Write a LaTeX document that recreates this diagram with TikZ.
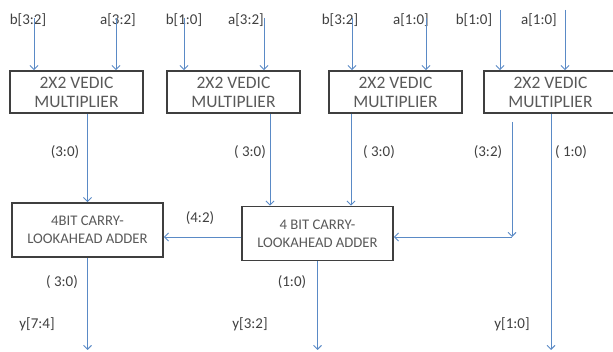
\documentclass[tikz,border=0pt]{standalone}
\usepackage{fontspec}
\setmainfont{Carlito}
\usetikzlibrary{arrows.meta}
\definecolor{wire}{HTML}{5A8AC6}
\definecolor{boxline}{HTML}{3F3F3F}
\definecolor{boxtext}{HTML}{595959}
\definecolor{labeltext}{HTML}{404040}

\begin{document}
\begin{tikzpicture}[x=1pt, y=-1pt,
    mult/.style={rectangle, draw=boxline, line width=1.8pt, minimum width=133pt, minimum height=42pt, align=center, text=boxtext, inner sep=0pt, font=\fontsize{17.5}{19}\selectfont},
    cla/.style={rectangle, draw=boxline, line width=1.8pt, minimum width=151pt, minimum height=54pt, align=center, text=boxtext, inner sep=0pt, font=\fontsize{14.7}{18}\selectfont},
    lbl/.style={text=labeltext, inner sep=0pt, font=\fontsize{15}{18}\selectfont},
    arrow/.style={-{Straight Barb[length=4pt,width=8pt]}, draw=wire, line width=0.9pt}
]
\useasboundingbox (0,0) rectangle (613,352);

\node[mult] (vm1) at (76.5,92) {2X2 VEDIC\\MULTIPLIER};
\node[mult] (vm2) at (233.5,92) {2X2 VEDIC\\MULTIPLIER};
\node[mult] (vm3) at (395.5,92) {2X2 VEDIC\\MULTIPLIER};
\node[mult] (vm4) at (550.5,92) {2X2 VEDIC\\MULTIPLIER};

\node[cla] (cla1) at (87.5,230) {4BIT CARRY-\\LOOKAHEAD ADDER};
\node[cla] (cla2) at (317.5,233.5) {4 BIT CARRY-\\LOOKAHEAD ADDER};

\node[lbl] (lb1) at (28,20) {b[3:2]};
\node[lbl] (la1) at (118,20) {a[3:2]};
\node[lbl] (lb2) at (184,20) {b[1:0]};
\node[lbl] (la2) at (246,20) {a[3:2]};
\node[lbl] (lb3) at (340,20) {b[3:2]};
\node[lbl] (la3) at (411,20) {a[1:0]};
\node[lbl] (lb4) at (474,20) {b[1:0]};
\node[lbl] (la4) at (539,20) {a[1:0]};

\coordinate (inb1) at (34,18);
\coordinate (ina1) at (116,18);
\coordinate (inb2) at (184,18);
\coordinate (ina2) at (264,18);
\coordinate (inb3) at (352,18);
\coordinate (ina3) at (426,18);
\coordinate (inb4) at (500,10);
\coordinate (ina4) at (565,10);
\foreach \i in {1,...,4} {
    \draw[arrow] (inb\i) -- (inb\i |- vm\i.north);
    \draw[arrow] (ina\i) -- (ina\i |- vm\i.north);
}

\coordinate (bot) at (0,350);
\coordinate (t32) at (512,122);
\coordinate (c32) at (512,237);

\draw[arrow] (cla1.north |- vm1.south) -- (cla1.north);
\draw[arrow] ([xshift=36.5pt]vm2.south) -- ([xshift=36.5pt]vm2.south |- cla2.north);
\draw[arrow] ([xshift=-44.5pt]vm3.south) -- ([xshift=-44.5pt]vm3.south |- cla2.north);
\draw[arrow] (t32) -- (c32);
\draw[arrow] (c32) -- (cla2.east |- c32);
\draw[arrow] ([xshift=0.5pt]vm4.south) -- ([xshift=0.5pt]vm4.south |- bot);
\draw[arrow] (cla2.west |- c32) -- (cla1.east |- c32);
\draw[arrow] (cla1.south) -- (cla1.south |- bot);
\draw[arrow] (cla2.south) -- (cla2.south |- bot);

\node[lbl] (p1) at (65,152) {(3:0)};
\node[lbl] (p2) at (250,152) {( 3:0)};
\node[lbl] (p3) at (379,152) {( 3:0)};
\node[lbl] (p4) at (488,152) {(3:2)};
\node[lbl] (p5) at (571,152) {( 1:0)};
\node[lbl] (p6) at (200,218) {(4:2)};
\node[lbl] (p7) at (62,282) {( 3:0)};
\node[lbl] (p8) at (292,282) {(1:0)};
\node[lbl] (y1) at (37,324) {y[7:4]};
\node[lbl] (y2) at (250,324) {y[3:2]};
\node[lbl] (y3) at (512,324) {y[1:0]};

\end{tikzpicture}
\end{document}
